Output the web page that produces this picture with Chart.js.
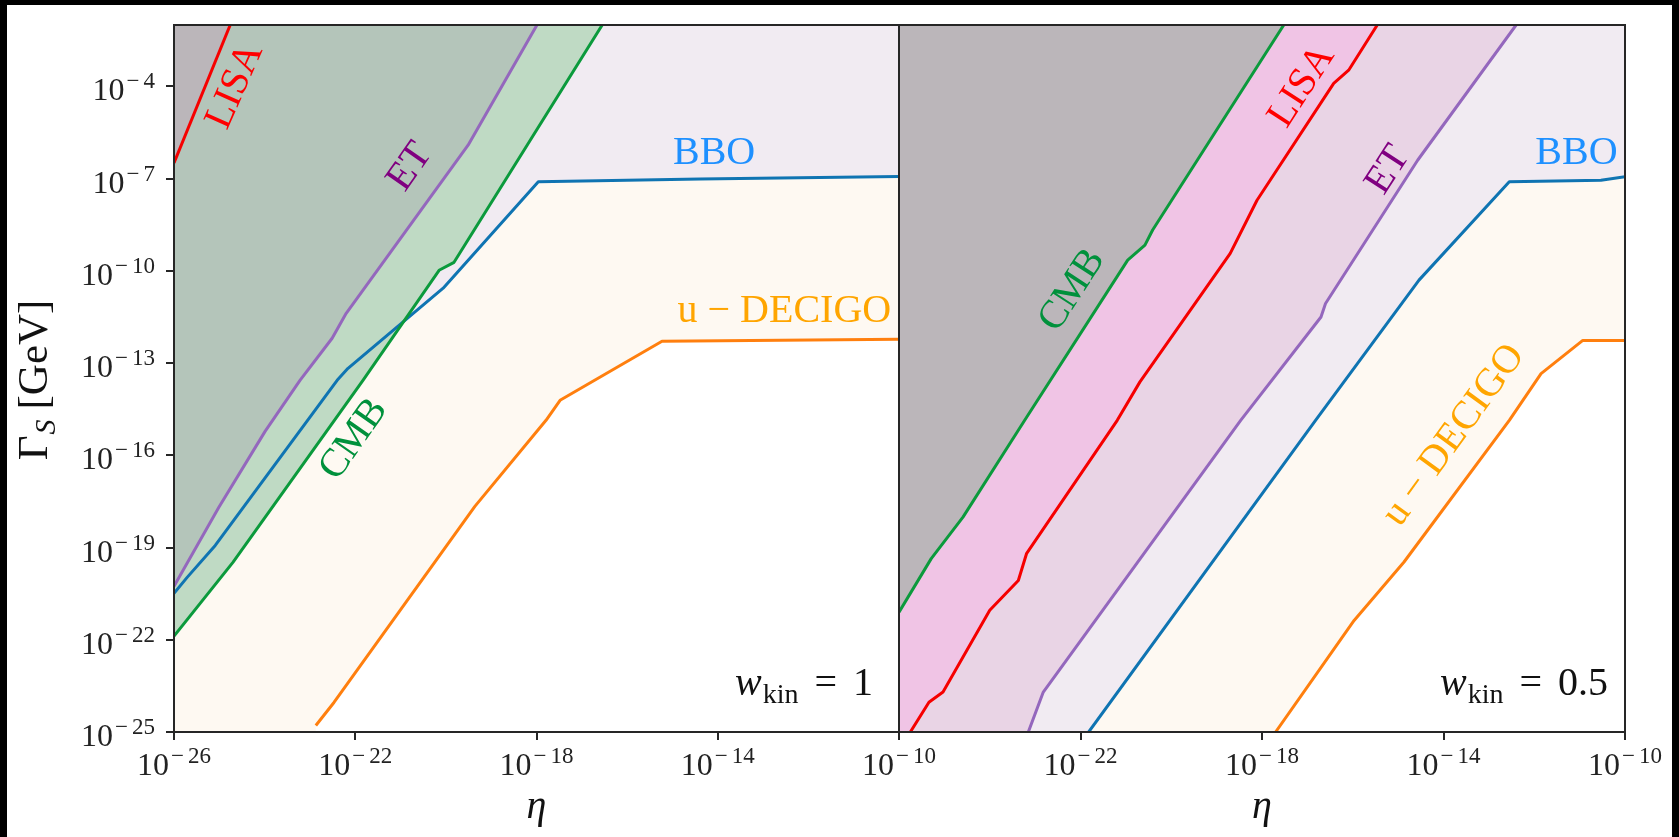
<!DOCTYPE html>
<html lang="en">
<head>
    <meta charset="UTF-8">
    <title>Gamma_S vs eta</title>
    <style>
        html, body { margin: 0; padding: 0; background: #000; overflow: hidden; }
        .sheet { position: absolute; left: 7px; top: 5px; width: 1665px; height: 832px; background: #fff; }
        canvas { position: absolute; left: 0; top: 0; }
    </style>
</head>
<body>
    <div class="sheet"></div>
    <canvas id="chartKin1" width="1679" height="837"></canvas>
    <canvas id="chartKin05" width="1679" height="837"></canvas>
    <script src="https://cdn.jsdelivr.net/npm/chart.js"></script>
    <script>
        // all values are log10 of the quantity
        const etaRange = [-26, -10];
        const gammaRange = [-25, -2];
        const etaTicks = [-26, -22, -18, -14, -10];
        const gammaTicks = [-25, -22, -19, -16, -13, -10, -7, -4];

        // panel w_kin = 1
        const lisaEta1 = [-26, -24.76];
        const lisaGamma1 = [-6.49, -2.0];
        const etEta1 = [-26, -25.01, -23.99, -23.22, -22.51, -22.20, -19.51, -17.99];
        const etGamma1 = [-20.26, -17.69, -15.22, -13.56, -12.19, -11.38, -5.91, -2.0];
        const cmbEta1 = [-26, -24.70, -21.83, -20.15, -19.82, -18.80, -16.55];
        const cmbGamma1 = [-21.88, -19.48, -13.56, -9.98, -9.72, -7.31, -2.0];
        const bboEta1 = [-26, -25.71, -25.09, -22.40, -22.16, -20.06, -17.96, -14.39, -10];
        const bboGamma1 = [-20.49, -19.97, -18.93, -13.56, -13.17, -10.56, -7.10, -7.01, -6.93];
        const decigoEta1 = [-22.87, -22.47, -19.36, -17.79, -17.48, -15.23, -10];
        const decigoGamma1 = [-24.79, -24.04, -17.66, -14.86, -14.21, -12.29, -12.22];

        // panel w_kin = 0.5
        const cmbEta05 = [-26, -25.29, -24.59, -23.23, -20.96, -20.58, -20.41, -17.52];
        const cmbGamma05 = [-21.10, -19.36, -18.01, -14.86, -9.65, -9.16, -8.67, -2.0];
        const lisaEta05 = [-25.75, -25.34, -25.03, -24.0, -23.37, -23.19, -21.19, -20.69, -18.70, -18.11, -16.42, -16.09, -15.46];
        const lisaGamma05 = [-25.0, -24.03, -23.70, -21.04, -20.07, -19.20, -14.86, -13.61, -9.43, -7.70, -3.90, -3.47, -2.0];
        const etEta05 = [-23.15, -22.82, -18.47, -16.70, -16.60, -14.57, -12.40];
        const etGamma05 = [-25, -23.70, -14.86, -11.50, -11.06, -6.40, -2.0];
        const bboEta05 = [-21.82, -16.82, -14.54, -12.55, -10.53, -10];
        const bboGamma05 = [-25, -14.86, -10.30, -7.10, -7.05, -6.94];
        const decigoEta05 = [-17.70, -15.97, -14.87, -12.55, -11.85, -10.93, -10];
        const decigoGamma05 = [-25, -21.37, -19.47, -14.86, -13.34, -12.26, -12.26];

        const SERIF = '"Liberation Serif", "Times New Roman", serif';
        const AXIS = '#262626';

        const lineColors = {
            lisa: '#f60000', et: '#9467bd', cmb: '#0b9a3c', bbo: '#0f74b2', decigo: '#ff7f0e'
        };

        function pts(etas, gammas) {
            return etas.map((e, i) => ({ x: Math.pow(10, e), y: Math.pow(10, gammas[i]) }));
        }

        // region above a curve; closed along the bottom axis when the curve starts inside the plot
        function regionPts(etas, gammas) {
            const p = pts(etas, gammas);
            if (etas[0] > etaRange[0]) {
                p.unshift({ x: Math.pow(10, etas[0]), y: Math.pow(10, gammaRange[0]) });
                p.unshift({ x: Math.pow(10, etaRange[0]), y: Math.pow(10, gammaRange[0]) });
            }
            return p;
        }

        function fillSet(etas, gammas, color, order) {
            return { data: regionPts(etas, gammas), borderWidth: 0, pointRadius: 0,
                     backgroundColor: color, fill: 'end', order: order };
        }

        function lineSet(etas, gammas, color) {
            return { data: pts(etas, gammas), borderColor: color, borderWidth: 3, pointRadius: 0,
                     fill: false, order: 0, borderJoinStyle: 'round' };
        }

        function drawPower(ctx, x, y, exp, align) {
            const base = '10';
            const minus = '\u2212';
            const digits = String(Math.abs(exp));
            ctx.font = '32px ' + SERIF;
            const wb = ctx.measureText(base).width;
            ctx.font = '23px ' + SERIF;
            const wm = ctx.measureText(minus).width;
            const wd = ctx.measureText(digits).width;
            const total = wb + 2 + wm + 4 + wd;
            const x0 = align === 'right' ? x - total : x - total / 2;
            ctx.textAlign = 'left';
            ctx.textBaseline = 'alphabetic';
            ctx.fillStyle = '#222';
            ctx.font = '32px ' + SERIF;
            ctx.fillText(base, x0, y);
            ctx.font = '23px ' + SERIF;
            ctx.fillText(minus, x0 + wb + 2, y - 12);
            ctx.fillText(digits, x0 + wb + 2 + wm + 4, y - 12);
        }

        function drawPieces(ctx, parts, xStart, y) {
            let x = xStart;
            parts.forEach(p => {
                ctx.font = p.font;
                ctx.fillText(p.t, x, y + p.dy);
                x += ctx.measureText(p.t).width + p.gap;
            });
        }

        function piecesWidth(ctx, parts) {
            let w = 0;
            parts.forEach((p, i) => {
                ctx.font = p.font;
                w += ctx.measureText(p.t).width + (i < parts.length - 1 ? p.gap : 0);
            });
            return w;
        }

        function makeTextPlugin(cfg) {
            return {
                id: 'texts',
                afterDraw(chart) {
                    const ctx = chart.ctx;
                    const a = chart.chartArea;
                    const sx = chart.scales.x;
                    const sy = chart.scales.y;
                    ctx.save();

                    // frame
                    ctx.strokeStyle = AXIS;
                    ctx.lineWidth = 2;
                    ctx.strokeRect(a.left, a.top, a.right - a.left, a.bottom - a.top);

                    // tick labels
                    etaTicks.forEach(e => {
                        if (cfg.skipFirstX && e === etaTicks[0]) return;
                        drawPower(ctx, sx.getPixelForValue(Math.pow(10, e)), a.bottom + 43, e, 'center');
                    });
                    if (cfg.yLabels) {
                        gammaTicks.forEach(g => {
                            drawPower(ctx, a.left - 19, sy.getPixelForValue(Math.pow(10, g)) + 14, g, 'right');
                        });
                        // y title
                        ctx.save();
                        ctx.translate(47, 380);
                        ctx.rotate(-Math.PI / 2);
                        ctx.fillStyle = '#111';
                        ctx.textBaseline = 'alphabetic';
                        ctx.textAlign = 'left';
                        const title = [
                            { t: '\u0393', font: '43px ' + SERIF, dy: 0, gap: 1 },
                            { t: 'S', font: 'italic 30px ' + SERIF, dy: 8, gap: 10 },
                            { t: '[GeV]', font: '43px ' + SERIF, dy: 0, gap: 0 }
                        ];
                        drawPieces(ctx, title, -piecesWidth(ctx, title) / 2, 0);
                        ctx.restore();
                    }

                    // x title
                    ctx.fillStyle = '#111';
                    ctx.textAlign = 'center';
                    ctx.textBaseline = 'alphabetic';
                    ctx.font = 'italic 40px ' + SERIF;
                    ctx.fillText('\u03b7', (a.left + a.right) / 2, 818);

                    // curve labels
                    cfg.labels.forEach(l => {
                        ctx.save();
                        ctx.translate(sx.getPixelForValue(Math.pow(10, l.eta)), sy.getPixelForValue(Math.pow(10, l.gamma)));
                        ctx.rotate(l.angle * Math.PI / 180);
                        ctx.fillStyle = l.color;
                        ctx.font = '40px ' + SERIF;
                        ctx.textAlign = 'center';
                        ctx.textBaseline = l.angle === 0 ? 'alphabetic' : 'middle';
                        ctx.fillText(l.text, 0, 0);
                        ctx.restore();
                    });

                    // w_kin text
                    ctx.fillStyle = '#111';
                    ctx.textAlign = 'left';
                    ctx.textBaseline = 'alphabetic';
                    const wk = [
                        { t: 'w', font: 'italic 40px ' + SERIF, dy: 0, gap: 1 },
                        { t: 'kin', font: '28px ' + SERIF, dy: 8, gap: 16 },
                        { t: '=', font: '40px ' + SERIF, dy: 0, gap: 16 },
                        { t: cfg.wkin, font: '40px ' + SERIF, dy: 0, gap: 0 }
                    ];
                    drawPieces(ctx, wk, a.right - cfg.wkinRight - piecesWidth(ctx, wk), a.bottom - 37);

                    ctx.restore();
                }
            };
        }

        function xAxis() {
            return {
                type: 'logarithmic',
                min: Math.pow(10, etaRange[0]),
                max: Math.pow(10, etaRange[1]),
                afterBuildTicks: ax => { ax.ticks = etaTicks.map(e => ({ value: Math.pow(10, e) })); },
                afterFit: ax => { ax.height = 0; },
                ticks: { display: false },
                grid: { drawOnChartArea: false, drawTicks: true, tickLength: 8, color: AXIS, lineWidth: 2 },
                border: { display: false }
            };
        }

        function yAxis(show) {
            return {
                type: 'logarithmic',
                display: show,
                min: Math.pow(10, gammaRange[0]),
                max: Math.pow(10, gammaRange[1]),
                afterBuildTicks: ax => { ax.ticks = gammaTicks.map(g => ({ value: Math.pow(10, g) })); },
                afterFit: ax => { ax.width = 0; },
                ticks: { display: false },
                grid: { drawOnChartArea: false, drawTicks: true, tickLength: 8, color: AXIS, lineWidth: 2 },
                border: { display: false }
            };
        }

        function baseOptions(padding) {
            return {
                responsive: false,
                animation: false,
                events: [],
                layout: { autoPadding: false, padding: padding },
                plugins: { legend: { display: false }, tooltip: { enabled: false } },
                elements: { line: { tension: 0 } }
            };
        }

        // left panel: w_kin = 1
        const opts1 = baseOptions({ left: 174, right: 780, top: 25, bottom: 105 });
        opts1.scales = { x: xAxis(), y: yAxis(true) };
        new Chart(document.getElementById('chartKin1').getContext('2d'), {
            type: 'line',
            data: {
                datasets: [
                    lineSet(lisaEta1, lisaGamma1, lineColors.lisa),
                    lineSet(etEta1, etGamma1, lineColors.et),
                    lineSet(cmbEta1, cmbGamma1, lineColors.cmb),
                    lineSet(bboEta1, bboGamma1, lineColors.bbo),
                    lineSet(decigoEta1, decigoGamma1, lineColors.decigo),
                    fillSet(lisaEta1, lisaGamma1, 'rgb(187,182,186)', 1),
                    fillSet(etEta1, etGamma1, 'rgb(180,197,186)', 2),
                    fillSet(cmbEta1, cmbGamma1, 'rgb(191,218,196)', 3),
                    fillSet(bboEta1, bboGamma1, 'rgb(241,235,242)', 4),
                    fillSet(decigoEta1, decigoGamma1, 'rgb(254,249,242)', 5)
                ]
            },
            options: opts1,
            plugins: [makeTextPlugin({
                yLabels: true, skipFirstX: false, wkin: '1', wkinRight: 26,
                labels: [
                    { text: 'LISA', color: '#ff0000', eta: -24.65, gamma: -3.99, angle: -66 },
                    { text: 'ET', color: '#800080', eta: -20.79, gamma: -6.62, angle: -55 },
                    { text: 'CMB', color: '#00913c', eta: -22.03, gamma: -15.48, angle: -55 },
                    { text: 'BBO', color: '#1e90ff', eta: -14.08, gamma: -6.53, angle: 0 },
                    { text: 'u \u2212 DECIGO', color: '#ffa500', eta: -12.53, gamma: -11.67, angle: 0 }
                ]
            })]
        });

        // right panel: w_kin = 0.5
        const opts05 = baseOptions({ left: 899, right: 54, top: 25, bottom: 105 });
        opts05.scales = { x: xAxis(), y: yAxis(false) };
        new Chart(document.getElementById('chartKin05').getContext('2d'), {
            type: 'line',
            data: {
                datasets: [
                    lineSet(cmbEta05, cmbGamma05, lineColors.cmb),
                    lineSet(lisaEta05, lisaGamma05, lineColors.lisa),
                    lineSet(etEta05, etGamma05, lineColors.et),
                    lineSet(bboEta05, bboGamma05, lineColors.bbo),
                    lineSet(decigoEta05, decigoGamma05, lineColors.decigo),
                    fillSet(cmbEta05, cmbGamma05, 'rgb(187,182,186)', 1),
                    fillSet(lisaEta05, lisaGamma05, 'rgb(240,196,229)', 2),
                    fillSet(etEta05, etGamma05, 'rgb(233,212,229)', 3),
                    fillSet(bboEta05, bboGamma05, 'rgb(241,235,242)', 4),
                    fillSet(decigoEta05, decigoGamma05, 'rgb(254,249,242)', 5)
                ]
            },
            options: opts05,
            plugins: [makeTextPlugin({
                yLabels: false, skipFirstX: true, wkin: '0.5', wkinRight: 17,
                labels: [
                    { text: 'CMB', color: '#00913c', eta: -22.18, gamma: -10.63, angle: -57 },
                    { text: 'LISA', color: '#ff0000', eta: -17.12, gamma: -4.0, angle: -57 },
                    { text: 'ET', color: '#800080', eta: -15.22, gamma: -6.72, angle: -57 },
                    { text: 'BBO', color: '#1e90ff', eta: -11.07, gamma: -6.53, angle: 0 },
                    { text: 'u \u2212 DECIGO', color: '#ffa500', eta: -13.77, gamma: -15.35, angle: -54 }
                ]
            })]
        });
    </script>
</body>
</html>
